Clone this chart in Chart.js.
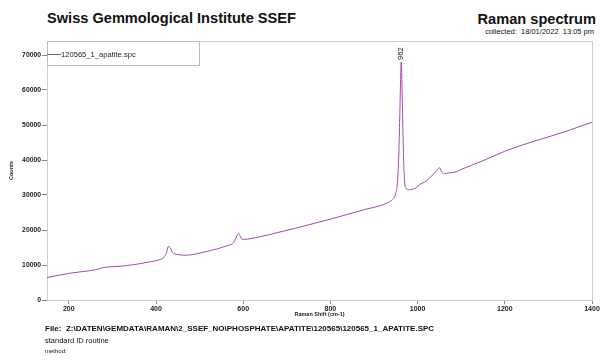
<!DOCTYPE html>
<html>
<head>
<meta charset="utf-8">
<script src="https://cdn.jsdelivr.net/npm/chart.js@4.4.1/dist/chart.umd.min.js"></script>
<style>
	html, body { margin: 0; padding: 0; background: #fff; }
	body { width: 616px; height: 360px; position: relative; overflow: hidden; font-family: "Liberation Sans", Arial, sans-serif; color: #111; }
	#chart { position: absolute; left: 0; top: 0; }
	.txt { position: absolute; white-space: pre; line-height: 1; }
	#title { left: 47px; top: 11px; font-size: 14.6px; font-weight: bold; }
	#kind { right: 20px; top: 12px; font-size: 14.6px; font-weight: bold; }
	#collected { right: 22px; top: 28px; font-size: 7.5px; }
	#file { left: 45px; top: 325px; font-size: 8px; font-weight: bold; }
	#routine { left: 45px; top: 337px; font-size: 7.5px; }
	#method { left: 45px; top: 348px; font-size: 6px; }
</style>
</head>
<body>
<div class="txt" id="title">Swiss Gemmological Institute SSEF</div>
<div class="txt" id="kind">Raman spectrum</div>
<div class="txt" id="collected">collected:  18/01/2022  13:05 pm</div>
<canvas id="chart" width="616" height="360"></canvas>
<div class="txt" id="file">File:  Z:\DATEN\GEMDATA\RAMAN\2_SSEF_NO\PHOSPHATE\APATITE\120565\120565_1_APATITE.SPC</div>
<div class="txt" id="routine">standard ID routine</div>
<div class="txt" id="method">method:</div>
<script>
// spectrum
const ramanShift = [150, 170, 200, 230, 260, 280, 300, 330, 360, 390, 410, 418, 424, 428, 432, 438, 450, 470, 490, 510,
	540, 565, 578, 584, 589, 593, 598, 610, 640, 680, 720, 760, 800, 840, 880, 910, 930, 942, 950, 954,
	957, 959, 961, 962.5, 964, 966, 968, 970, 973, 980, 995, 1005, 1020, 1035, 1044, 1050, 1056, 1062, 1070, 1085,
	1100, 1150, 1200, 1250, 1300, 1350, 1400];
const counts = [6400, 6900, 7600, 8100, 8600, 9300, 9500, 9800, 10300, 11000, 11600, 12200, 13500, 15300, 15000, 13600, 13000, 12800, 13100, 13700,
	14600, 15600, 16300, 18000, 19000, 18300, 17300, 17400, 18100, 19300, 20500, 21800, 23100, 24500, 25900, 26800, 27700, 28700, 30500, 34000,
	42000, 52000, 63000, 68000, 62000, 50000, 40000, 34000, 32000, 31500, 32000, 33000, 34000, 35800, 37000, 37800, 36500, 36100, 36300, 36500,
	37300, 39800, 42500, 44700, 46600, 48600, 50800];
const xTicks = [200, 400, 600, 800, 1000, 1200, 1400];
const yTicks = [0, 10000, 20000, 30000, 40000, 50000, 60000, 70000];
const peakLabels = [962];
const seriesName = '120565_1_apatite.spc';

const points = ramanShift.map((x, i) => ({x: x, y: counts[i]}));
const fontFamily = '"Liberation Sans", Arial, sans-serif';

// frame, legend box and peak label
const decorations = {
	id: 'decorations',
	beforeDatasetsDraw(chart) {
		const {ctx, chartArea} = chart;
		ctx.save();
		ctx.strokeStyle = '#cfcfcf';
		ctx.lineWidth = 1;
		ctx.strokeRect(chartArea.left + 0.5, chartArea.top + 0.5, chartArea.right - chartArea.left, chartArea.bottom - chartArea.top);
		// legend box
		ctx.strokeStyle = '#bdbdbd';
		ctx.strokeRect(chartArea.left + 0.5, chartArea.top + 0.5, 152, 24);
		ctx.strokeStyle = '#666';
		ctx.beginPath();
		ctx.moveTo(chartArea.left, chartArea.top + 13.5);
		ctx.lineTo(chartArea.left + 14, chartArea.top + 13.5);
		ctx.stroke();
		ctx.fillStyle = '#222';
		ctx.font = '7.6px ' + fontFamily;
		ctx.textBaseline = 'middle';
		ctx.fillText(seriesName, chartArea.left + 14, chartArea.top + 13.5);
		ctx.restore();
	},
	afterDatasetsDraw(chart) {
		const {ctx, scales} = chart;
		ctx.save();
		ctx.fillStyle = '#111';
		ctx.font = '7.6px ' + fontFamily;
		ctx.textAlign = 'left';
		ctx.textBaseline = 'middle';
		peakLabels.forEach(p => {
			let top = 0;
			ramanShift.forEach((x, i) => { if (Math.abs(x - p) <= 2) top = Math.max(top, counts[i]); });
			const px = scales.x.getPixelForValue(p);
			const py = scales.y.getPixelForValue(top) - 2;
			ctx.translate(px, py);
			ctx.rotate(-Math.PI / 2);
			ctx.fillText(String(p), 0, 0);
			ctx.setTransform(1, 0, 0, 1, 0, 0);
		});
		ctx.restore();
	}
};

new Chart(document.getElementById('chart'), {
	type: 'line',
	data: {
		datasets: [{
			label: seriesName,
			data: points,
			borderColor: '#a548ad',
			borderWidth: 1,
			pointRadius: 0,
			cubicInterpolationMode: 'monotone',
			fill: false
		}]
	},
	options: {
		responsive: false,
		devicePixelRatio: 1,
		animation: false,
		layout: {padding: {left: 0, right: 24, top: 41, bottom: 42}},
		plugins: {legend: {display: false}, tooltip: {enabled: false}},
		scales: {
			x: {
				type: 'linear',
				min: 150,
				max: 1400,
				afterBuildTicks: s => { s.ticks = xTicks.map(v => ({value: v})); },
				afterFit: s => { s.height = 18; },
				grid: {drawOnChartArea: false, drawTicks: true, tickLength: 4, color: '#888'},
				border: {color: '#777'},
				ticks: {padding: 1, color: '#222', font: {size: 7, weight: 'bold', family: fontFamily}, maxRotation: 0, callback: v => String(v)},
				title: {display: true, text: 'Raman Shift (cm-1)', color: '#222', padding: 0, font: {size: 5.5, weight: 'bold', family: fontFamily}}
			},
			y: {
				min: 0,
				max: 74000,
				afterBuildTicks: s => { s.ticks = yTicks.map(v => ({value: v})); },
				afterFit: s => { s.width = 47; },
				grid: {drawOnChartArea: false, drawTicks: true, tickLength: 5, color: '#888'},
				border: {color: '#777'},
				ticks: {padding: 1, color: '#222', font: {size: 6.8, weight: 'bold', family: fontFamily}, callback: v => String(v)},
				title: {display: true, text: 'Counts', color: '#222', padding: 8, font: {size: 5.5, weight: 'bold', family: fontFamily}}
			}
		}
	},
	plugins: [decorations]
});
</script>
</body>
</html>
